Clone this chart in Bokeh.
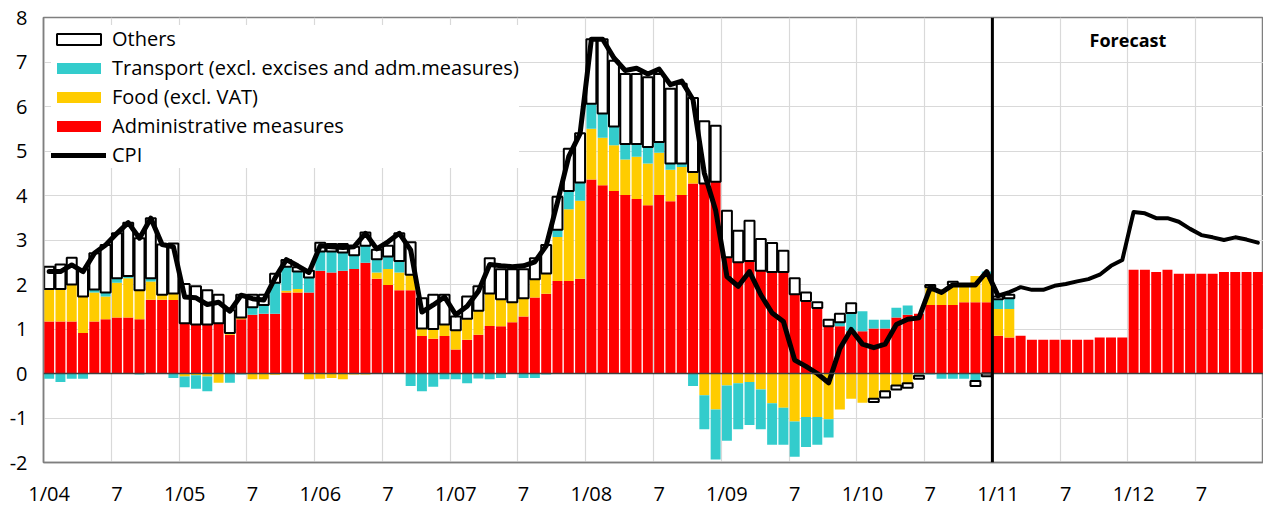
import numpy as np
from bokeh.plotting import figure
from bokeh.models import (Range1d, FixedTicker, Span, Label, Legend, LegendItem,
                          ColumnDataSource)
from bokeh.embed import file_html
from bokeh.resources import INLINE

# ---------------- data ----------------
months = [f"{m}/{y:02d}" for y in range(4, 13) for m in range(1, 13)]
forecast_start = "1/11"
label_months = ["1/04", "7/04", "1/05", "7/05", "1/06", "7/06", "1/07", "7/07", "1/08",
                "7/08", "1/09", "7/09", "1/10", "7/10", "1/11", "7/11", "1/12", "7/12"]
tick_labels = ["1/04", "7", "1/05", "7", "1/06", "7", "1/07", "7", "1/08",
               "7", "1/09", "7", "1/10", "7", "1/11", "7", "1/12", "7"]
y_ticks = [-2, -1, 0, 1, 2, 3, 4, 5, 6, 7, 8]
y_tick_labels = ["-2", "-1", "0", "1", "2", "3", "4", "5", "6", "7", "8"]

admin = [1.17, 1.17, 1.17, 0.91, 1.17, 1.22, 1.26, 1.26, 1.22, 1.66, 1.66, 1.65,
         1.13, 1.10, 1.10, 1.13, 0.87, 1.22, 1.32, 1.34, 1.34, 1.82, 1.82, 1.82,
         2.31, 2.27, 2.31, 2.35, 2.49, 2.13, 1.99, 1.87, 1.87, 0.84, 0.78, 0.84,
         0.54, 0.76, 0.87, 1.07, 1.06, 1.15, 1.28, 1.71, 1.79, 2.08, 2.08, 2.13,
         4.36, 4.23, 4.10, 4.01, 3.92, 3.78, 4.01, 3.87, 4.01, 4.27, 4.27, 4.31,
         2.61, 2.50, 2.53, 2.31, 2.28, 2.28, 1.78, 1.63, 1.47, 1.06, 1.06, 0.95,
         0.95, 1.01, 1.01, 1.26, 1.32, 1.34, 1.54, 1.54, 1.54, 1.60, 1.60, 1.60,
         0.85, 0.81, 0.85, 0.76, 0.76, 0.76, 0.76, 0.76, 0.76, 0.81, 0.81, 0.81,
         2.33, 2.33, 2.28, 2.33, 2.24, 2.24, 2.24, 2.24, 2.28, 2.28, 2.28, 2.28]

food = [0.73, 0.73, 0.83, 0.82, 0.65, 0.51, 0.78, 0.88, 0.65, 0.41, 0.11, 0.15,
        -0.07, -0.04, -0.07, -0.21, 0.04, 0.04, -0.13, -0.13, -0.03, 0.04, 0.08, -0.13,
        -0.12, -0.10, -0.13, -0.02, -0.02, 0.14, 0.36, 0.40, 0.35, 0.17, 0.22, 0.26,
        0.43, 0.47, 0.54, 0.73, 0.61, 0.45, 0.41, 0.41, 0.46, 0.99, 1.61, 1.75,
        1.14, 1.07, 1.03, 0.80, 0.95, 0.94, 0.95, 0.71, 0.63, 0.26, -0.49, -0.81,
        -0.27, -0.22, -0.19, -0.36, -0.67, -0.77, -1.08, -0.98, -0.98, -1.03, -0.81, -0.57,
        -0.66, -0.57, -0.40, -0.27, -0.22, -0.02, 0.40, 0.35, 0.45, 0.39, 0.59, 0.62,
        0.60, 0.64, 0, 0, 0, 0, 0, 0, 0, 0, 0, 0,
        0, 0, 0, 0, 0, 0, 0, 0, 0, 0, 0, 0]

transport = [-0.12, -0.19, -0.12, -0.12, 0.07, 0.09, 0.10, 0.05, -0.02, 0.07, 0.00, -0.10,
             -0.24, -0.30, -0.33, 0.00, -0.21, -0.02, 0.17, 0.20, 0.70, 0.54, 0.39, 0.34,
             0.43, 0.47, 0.41, 0.31, 0.38, 0.30, 0.28, 0.26, -0.28, -0.40, -0.30, -0.13,
             -0.13, -0.22, -0.11, -0.13, -0.10, 0.00, -0.10, -0.10, -0.02, 0.16, 0.41, 0.41,
             0.56, 0.54, 0.42, 0.35, 0.29, 0.37, 0.24, 0.14, 0.08, -0.28, -0.76, -1.12,
             -1.24, -1.03, -0.97, -0.89, -0.93, -0.83, -0.79, -0.67, -0.62, -0.41, 0.09, 0.41,
             0.45, 0.20, 0.20, 0.22, 0.21, -0.03, -0.02, -0.12, -0.12, -0.12, -0.17, 0.07,
             0.22, 0.24, 0, 0, 0, 0, 0, 0, 0, 0, 0, 0,
             0, 0, 0, 0, 0, 0, 0, 0, 0, 0, 0, 0]

others = [0.50, 0.55, 0.60, 0.62, 0.81, 1.07, 1.01, 1.20, 1.17, 1.35, 1.13, 1.12,
          0.88, 0.86, 0.77, 0.64, 0.51, 0.51, 0.28, 0.23, 0.20, 0.15, 0.10, 0.15,
          0.20, 0.17, 0.19, 0.19, 0.30, 0.21, 0.24, 0.62, 0.73, 0.68, 0.77, 0.67,
          0.31, 0.50, 0.55, 0.79, 0.67, 0.74, 0.65, 0.47, 0.64, 0.74, 0.95, 1.11,
          1.45, 1.67, 1.48, 1.57, 1.57, 1.57, 1.53, 1.68, 1.79, 1.66, 1.40, 1.26,
          1.05, 0.71, 0.90, 0.71, 0.65, 0.48, 0.36, 0.19, 0.13, 0.15, 0.19, 0.22,
          0.00, -0.07, -0.14, -0.09, -0.10, -0.07, 0.05, 0.00, 0.07, 0.00, -0.11, -0.06,
          0.06, 0.08, 0, 0, 0, 0, 0, 0, 0, 0, 0, 0,
          0, 0, 0, 0, 0, 0, 0, 0, 0, 0, 0, 0]

cpi = [2.29, 2.29, 2.44, 2.29, 2.70, 2.89, 3.15, 3.39, 3.04, 3.49, 2.90, 2.85,
       1.72, 1.70, 1.55, 1.60, 1.40, 1.76, 1.68, 1.65, 2.15, 2.56, 2.42, 2.27,
       2.87, 2.85, 2.83, 2.85, 3.15, 2.80, 2.96, 3.15, 2.78, 1.38, 1.54, 1.72,
       1.32, 1.51, 1.85, 2.45, 2.42, 2.40, 2.42, 2.51, 2.87, 3.85, 4.88, 5.39,
       7.51, 7.51, 7.09, 6.81, 6.86, 6.73, 6.84, 6.49, 6.57, 6.15, 4.50, 3.67,
       2.18, 1.96, 2.29, 1.77, 1.36, 1.17, 0.30, 0.16, 0.00, -0.21, 0.56, 0.99,
       0.66, 0.58, 0.66, 1.10, 1.22, 1.25, 1.93, 1.82, 1.99, 1.99, 1.99, 2.29,
       1.75, 1.83, 1.94, 1.88, 1.88, 1.97, 2.01, 2.07, 2.12, 2.22, 2.42, 2.55,
       3.63, 3.60, 3.49, 3.49, 3.41, 3.25, 3.11, 3.06, 3.00, 3.06, 3.01, 2.94]

# ---------------- stacking (positives up, negatives down) ----------------
n = len(months)
x = np.arange(n) + 0.5
pos_base = np.zeros(n)
neg_base = np.zeros(n)
stacks = []
for s in (admin, food, transport, others):
    s = np.asarray(s, dtype=float)
    b = np.where(s >= 0, pos_base, neg_base)
    t = b + s
    pos_base = np.where(s >= 0, t, pos_base)
    neg_base = np.where(s < 0, t, neg_base)
    stacks.append((b, t, s))

FONT = "Open Sans"
p = figure(width=1263, height=509, output_backend="svg", toolbar_location=None,
           x_range=Range1d(0, n), y_range=Range1d(-2, 8),
           min_border_left=43, min_border_right=0, min_border_top=17, min_border_bottom=46)
p.background_fill_color = "white"
p.outline_line_color = "#7f7f7f"
p.outline_line_width = 1.5

colors = ["#ff0000", "#ffcc00", "#33cccc"]
W = 0.88
rends = []
for (b, t, s), c in zip(stacks[:3], colors):
    mask = s != 0
    src = ColumnDataSource(dict(x=x[mask], bottom=b[mask], top=t[mask]))
    rends.append(p.vbar(x="x", bottom="bottom", top="top", width=W, source=src,
                        fill_color=c, line_color=None))
b, t, s = stacks[3]
mask = s != 0
src_o = ColumnDataSource(dict(x=x[mask], bottom=b[mask], top=t[mask]))
r_oth = p.vbar(x="x", bottom="bottom", top="top", width=W, source=src_o,
               fill_color="white", line_color="black", line_width=2)

p.add_layout(Span(location=0, dimension="width", line_color="#404040", line_width=1.5))

fc = months.index(forecast_start)
r_cpi = p.line(x[:fc + 1], cpi[:fc + 1], line_color="black", line_width=5,
               line_join="round", line_cap="round")
p.line(x[fc:], cpi[fc:], line_color="black", line_width=4,
       line_join="round", line_cap="round")

# forecast divider
p.add_layout(Span(location=fc, dimension="height", line_color="black", line_width=3))
p.add_layout(Label(x=months.index("1/12"), y=7.5, text="Forecast", text_align="center",
                   text_baseline="middle", text_font=FONT, text_font_style="bold",
                   text_font_size="18px", text_color="black"))

# axes
ticks = [float(x[months.index(m)]) for m in label_months]
p.xaxis.ticker = FixedTicker(ticks=ticks)
p.xaxis.major_label_overrides = {tk: lb for tk, lb in zip(ticks, tick_labels)}
p.xgrid.ticker = FixedTicker(ticks=[months.index(m) for m in label_months])
p.yaxis.ticker = FixedTicker(ticks=y_ticks)
p.yaxis.major_label_overrides = {tk: lb for tk, lb in zip(y_ticks, y_tick_labels)}
for ax in (p.xaxis[0], p.yaxis[0]):
    ax.major_tick_line_color = None
    ax.minor_tick_line_color = None
    ax.major_tick_out = 0
    ax.major_tick_in = 0
    ax.axis_line_color = "#7f7f7f"
    ax.axis_line_width = 1.5
    ax.major_label_text_font = FONT
    ax.major_label_text_font_size = "20px"
    ax.major_label_text_color = "black"
p.xaxis.major_label_standoff = 17
p.yaxis.major_label_standoff = 16
p.xgrid.grid_line_color = "#d9d9d9"
p.ygrid.grid_line_color = "#d9d9d9"
p.xgrid.grid_line_width = 1.2
p.ygrid.grid_line_width = 1.2

legend = Legend(items=[
    LegendItem(label="Others", renderers=[r_oth]),
    LegendItem(label="Transport (excl. excises and adm.measures)", renderers=[rends[2]]),
    LegendItem(label="Food (excl. VAT)", renderers=[rends[1]]),
    LegendItem(label="Administrative measures", renderers=[rends[0]]),
    LegendItem(label="CPI", renderers=[r_cpi]),
], location="top_left")
legend.margin = 8
legend.padding = 6
legend.spacing = 2
legend.glyph_width = 55
legend.glyph_height = 14
legend.label_height = 22
legend.label_standoff = 6
legend.label_text_font = FONT
legend.label_text_font_size = "20px"
legend.label_text_color = "black"
legend.border_line_color = None
legend.background_fill_color = "white"
legend.background_fill_alpha = 1.0
p.add_layout(legend)

with open("out.html", "w", encoding="utf-8") as f:
    f.write(file_html(p, INLINE))
